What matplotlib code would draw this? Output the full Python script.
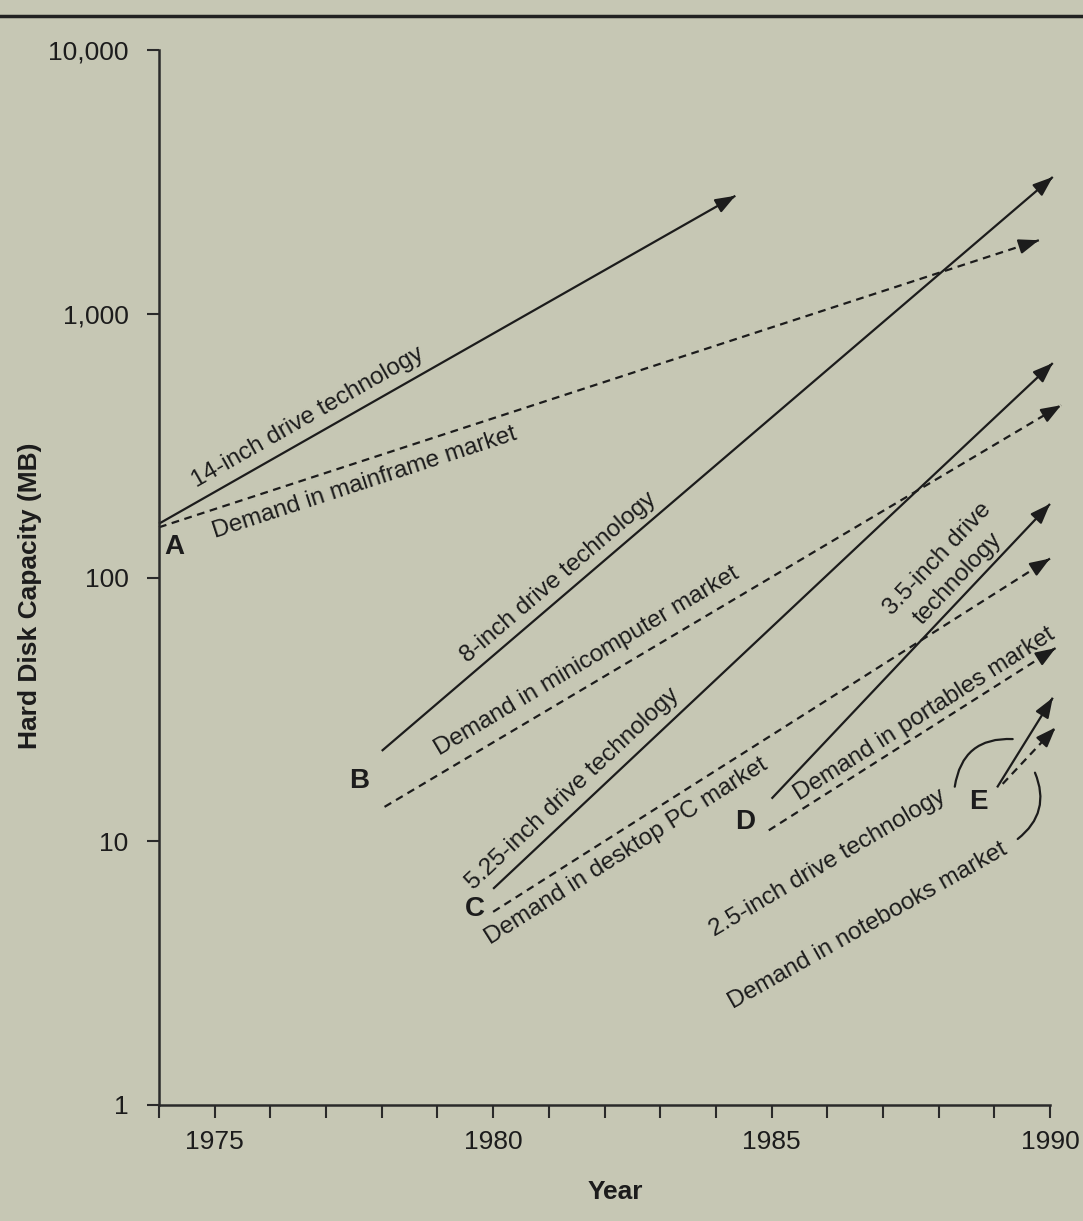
import numpy as np
import matplotlib
matplotlib.use("Agg")
import matplotlib.pyplot as plt
from matplotlib.lines import Line2D

# ---------------- data ----------------
year_ticks = list(range(1974, 1991))
year_label_vals = [1975, 1980, 1985, 1990]
year_labels = ["1975", "1980", "1985", "1990"]
cap_ticks = [1, 10, 100, 1000, 10000]
cap_labels = ["1", "10", "100", "1,000", "10,000"]

tech_labels = ["14-inch drive technology", "8-inch drive technology",
               "5.25-inch drive technology", "3.5-inch drive\ntechnology",
               "2.5-inch drive technology"]
tech_start_year = [1974.0, 1978.0, 1980.0, 1985.0, 1989.05]
tech_start_mb = [160, 22, 6.6, 14.5, 16]
tech_end_year = [1984.35, 1990.05, 1990.05, 1990.0, 1990.05]
tech_end_mb = [2800, 3300, 650, 190, 35]

market_labels = ["Demand in mainframe market", "Demand in minicomputer market",
                 "Demand in desktop PC market", "Demand in portables market",
                 "Demand in notebooks market"]
market_start_year = [1974.0, 1978.05, 1980.0, 1984.95, 1989.15]
market_start_mb = [155, 13.5, 5.4, 11, 16.5]
market_end_year = [1989.8, 1990.2, 1990.0, 1990.1, 1990.1]
market_end_mb = [1900, 450, 118, 54, 27]

point_letters = ["A", "B", "C", "D", "E"]

# ---------------- style / layout ----------------
BG = "#c6c7b4"
INK = "#1c1c1c"
FONT = ["Liberation Sans", "DejaVu Sans"]
plt.rcParams["font.family"] = FONT

W, H = 1083, 1221
fig = plt.figure(figsize=(W / 100, H / 100), dpi=100, facecolor=BG)
ax = fig.add_axes([159 / W, 1 - 1105 / H, (1050 - 159) / W, (1105 - 50) / H])
ax.set_facecolor(BG)
ax.set_yscale("log")
ax.set_xlim(1974, 1990)
ax.set_ylim(1, 10000)

for s in ["top", "right"]:
    ax.spines[s].set_visible(False)
for s in ["left", "bottom"]:
    ax.spines[s].set_color("#2a2a2a")
    ax.spines[s].set_linewidth(1.8)

ax.set_xticks(year_ticks)
ax.set_xticklabels([str(y) if y in year_label_vals else "" for y in year_ticks])
ax.set_yticks(cap_ticks)
ax.set_yticklabels(cap_labels)
ax.yaxis.set_minor_locator(matplotlib.ticker.NullLocator())
ax.tick_params(axis="both", direction="out", length=9, width=1.5, color="#2a2a2a",
               labelsize=19, labelcolor=INK)
ax.tick_params(axis="y", pad=13)
ax.tick_params(axis="x", pad=9)

ax.set_ylabel("Hard Disk Capacity (MB)", fontsize=19, fontweight="bold", color=INK, va="center")
ax.yaxis.set_label_coords(-0.1448, 0.483)
ax.set_xlabel("Year", fontsize=19, fontweight="bold", color=INK, va="center")
ax.xaxis.set_label_coords(0.512, -0.0825)

# top rule of the page
fig.add_artist(Line2D([0, 1], [1 - 16 / H] * 2, transform=fig.transFigure, color="#222222", lw=2.5))

LW = 1.6
DASH = (0, (3.5, 2.5))
TXT = 17.5


def draw_arrow(x0, y0, x1, y1, dashed):
    ax.plot([x0, x1], [y0, y1], color=INK, lw=LW, linestyle=DASH if dashed else "-",
            solid_capstyle="butt", clip_on=False)
    p0 = ax.transData.transform((x0, y0))
    p1 = ax.transData.transform((x1, y1))
    d = (p1 - p0) / np.hypot(*(p1 - p0))
    pb = ax.transData.inverted().transform(p1 - d * 4)
    ax.annotate("", xy=(x1, y1), xytext=tuple(pb), annotation_clip=False,
                arrowprops=dict(arrowstyle="-|>,head_length=0.75,head_width=0.28",
                                mutation_scale=16, color=INK, lw=LW,
                                shrinkA=0, shrinkB=0))


def label_along(x0, y0, x1, y1, text, t, off, size=TXT, ls=1.0):
    p0 = ax.transData.transform((x0, y0))
    p1 = ax.transData.transform((x1, y1))
    v = p1 - p0
    ang = np.degrees(np.arctan2(v[1], v[0]))
    u = v / np.hypot(*v)
    n = np.array([-u[1], u[0]])
    p = p0 + v * t + n * off
    pd = ax.transData.inverted().transform(p)
    ax.text(pd[0], pd[1], text, rotation=ang, rotation_mode="anchor", ha="center",
            va="center", fontsize=size, color=INK, linespacing=ls, multialignment="center")


for i in range(5):
    draw_arrow(tech_start_year[i], tech_start_mb[i], tech_end_year[i], tech_end_mb[i], False)
    draw_arrow(market_start_year[i], market_start_mb[i], market_end_year[i], market_end_mb[i], True)

# labels along the lines (fraction along, perpendicular offset in px)
tech_place = [(0.275, 19), (0.28, 17), (0.165, 18), (0.71, 30)]
market_place = [(0.226, -22), (0.315, 22), (0.22, -20), (0.57, 15)]
for i in range(4):
    t, o = tech_place[i]
    label_along(tech_start_year[i], tech_start_mb[i], tech_end_year[i], tech_end_mb[i],
                tech_labels[i], t, o, ls=1.35)
    t, o = market_place[i]
    label_along(market_start_year[i], market_start_mb[i], market_end_year[i], market_end_mb[i],
                market_labels[i], t, o)

# 2.5-inch / notebooks labels placed apart, with curved leaders
ax.text(1986.0, 8.3, tech_labels[4], rotation=30.5, rotation_mode="anchor",
        ha="center", va="center", fontsize=TXT, color=INK)
ax.text(1986.72, 4.78, market_labels[4], rotation=29.5, rotation_mode="anchor",
        ha="center", va="center", fontsize=TXT, color=INK)
ax.annotate("", xy=(1989.33, 24.4), xytext=(1988.29, 16.1), annotation_clip=False,
            arrowprops=dict(arrowstyle="-", color=INK, lw=LW, shrinkA=0, shrinkB=0,
                            connectionstyle="arc3,rad=-0.45"))
ax.annotate("", xy=(1989.73, 18.2), xytext=(1989.42, 10.2), annotation_clip=False,
            arrowprops=dict(arrowstyle="-", color=INK, lw=LW, shrinkA=0, shrinkB=0,
                            connectionstyle="arc3,rad=0.38"))

# point letters
letter_off = [(15, -23), (-23, -30), (-18, -20), (-26, -23), (-19, -15)]
for i, L in enumerate(point_letters):
    ax.annotate(L, xy=(tech_start_year[i], tech_start_mb[i]), xytext=letter_off[i],
                textcoords="offset pixels", ha="center", va="center", fontsize=20,
                fontweight="bold", color=INK, annotation_clip=False)

fig.savefig("out.png", dpi=100, facecolor=BG)
